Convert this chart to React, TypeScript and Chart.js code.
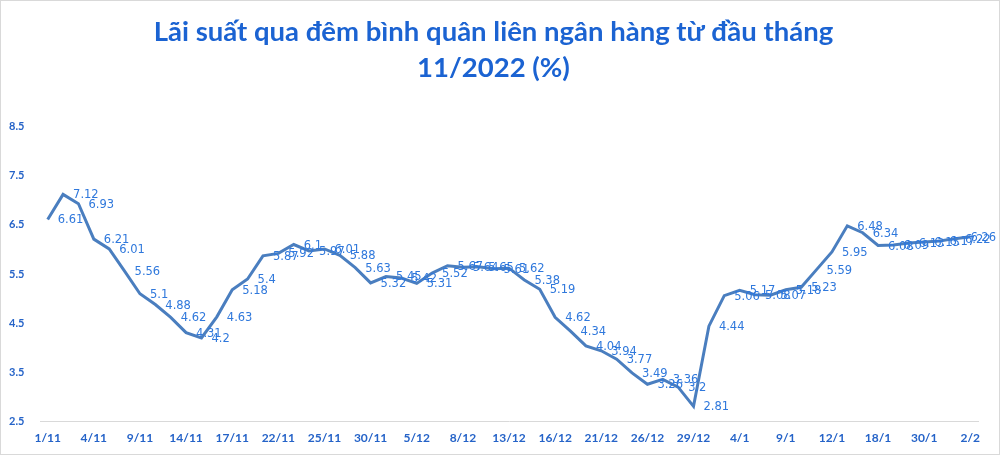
import React, { useEffect, useRef } from "react";
import { Chart, registerables } from "chart.js";

Chart.register(...registerables);

const titleLines = [
  "Lãi suất qua đêm bình quân liên ngân hàng từ đầu tháng",
  "11/2022 (%)",
];

const categories = [
  "1/11", "2/11", "3/11", "4/11", "7/11", "8/11", "9/11", "10/11", "11/11", "14/11",
  "15/11", "16/11", "17/11", "18/11", "21/11", "22/11", "23/11", "24/11", "25/11", "28/11",
  "29/11", "30/11", "1/12", "2/12", "5/12", "6/12", "7/12", "8/12", "9/12", "12/12",
  "13/12", "14/12", "15/12", "16/12", "19/12", "20/12", "21/12", "22/12", "23/12", "26/12",
  "27/12", "28/12", "29/12", "30/12", "3/1", "4/1", "5/1", "6/1", "9/1", "10/1",
  "11/1", "12/1", "16/1", "17/1", "18/1", "19/1", "27/1", "30/1", "31/1", "1/2",
  "2/2",
];

const rates = [
  6.61, 7.12, 6.93, 6.21, 6.01, 5.56, 5.1, 4.88, 4.62, 4.31,
  4.2, 4.63, 5.18, 5.4, 5.87, 5.92, 6.1, 5.97, 6.01, 5.88,
  5.63, 5.32, 5.45, 5.42, 5.31, 5.52, 5.67, 5.64, 5.65, 5.61,
  5.62, 5.38, 5.19, 4.62, 4.34, 4.04, 3.94, 3.77, 3.49, 3.26,
  3.36, 3.2, 2.81, 4.44, 5.06, 5.17, 5.08, 5.07, 5.18, 5.23,
  5.59, 5.95, 6.48, 6.34, 6.08, 6.09, 6.13, 6.15, 6.17, 6.22,
  6.26,
];

const yMin = 2.5;
const yMax = 8.5;
const yStep = 1;
const tickEvery = 3;

const TITLE_COLOR = "#1b63d2";
const TICK_COLOR = "#2563c8";
const LINE_COLOR = "#4a7ebf";
const LABEL_COLOR = "#2f78dc";

const dataLabelPlugin = {
  id: "dataLabelsRight",
  afterDatasetsDraw(chart: any) {
    const ctx = chart.ctx;
    const meta = chart.getDatasetMeta(0);
    const values = chart.data.datasets[0].data as number[];
    ctx.save();
    ctx.font = "11.5px 'DejaVu Sans', sans-serif";
    ctx.fillStyle = LABEL_COLOR;
    ctx.textAlign = "left";
    ctx.textBaseline = "middle";
    meta.data.forEach((pt: any, i: number) => {
      const txt = String(values[i]);
      const w = ctx.measureText(txt).width;
      const x = Math.min(pt.x + 10, chart.width - w - 3);
      ctx.fillText(txt, x, pt.y + 1);
    });
    ctx.restore();
  },
};

export default function App() {
  const ref = useRef<HTMLCanvasElement | null>(null);
  useEffect(() => {
    document.body.style.margin = "0";
    if (!ref.current) return;
    const chart = new Chart(ref.current, {
      type: "line",
      data: {
        labels: categories,
        datasets: [
          {
            data: rates,
            borderColor: LINE_COLOR,
            borderWidth: 3,
            pointRadius: 0,
            tension: 0,
            fill: false,
          },
        ],
      },
      options: {
        animation: false,
        responsive: true,
        maintainAspectRatio: false,
        layout: { padding: { left: 8, right: 21, top: 0, bottom: 0 } },
        plugins: {
          legend: { display: false },
          tooltip: { enabled: false },
          title: {
            display: true,
            text: titleLines,
            color: TITLE_COLOR,
            font: { family: "Lato, 'Noto Sans', sans-serif", size: 27.5, weight: "bold", lineHeight: 1.3 },
            padding: { top: 13, bottom: 41 },
          },
        },
        scales: {
          x: {
            offset: true,
            grid: { display: false, drawTicks: false },
            border: { display: true, color: "#d9d9d9", width: 1 },
            ticks: {
              autoSkip: false,
              maxRotation: 0,
              padding: 9,
              color: TICK_COLOR,
              font: { family: "Lato, sans-serif", size: 12, weight: "bold" },
              callback: (_v: any, i: number) => (i % tickEvery === 0 ? categories[i] : ""),
            },
          },
          y: {
            min: yMin,
            max: yMax,
            grid: { display: false, drawTicks: false },
            border: { display: false },
            afterFit: (s: any) => {
              s.width = 31;
            },
            ticks: {
              stepSize: yStep,
              crossAlign: "far",
              color: TICK_COLOR,
              font: { family: "Lato, sans-serif", size: 11, weight: "bold" },
              callback: (v: any) => Number(v).toFixed(1),
            },
          },
        },
      },
      plugins: [dataLabelPlugin],
    });
    return () => chart.destroy();
  }, []);

  return (
    <div
      style={{
        width: 1000,
        height: 455,
        boxSizing: "border-box",
        border: "1px solid #d9d9d9",
        background: "#fff",
        position: "relative",
      }}
    >
      <canvas ref={ref} />
    </div>
  );
}
